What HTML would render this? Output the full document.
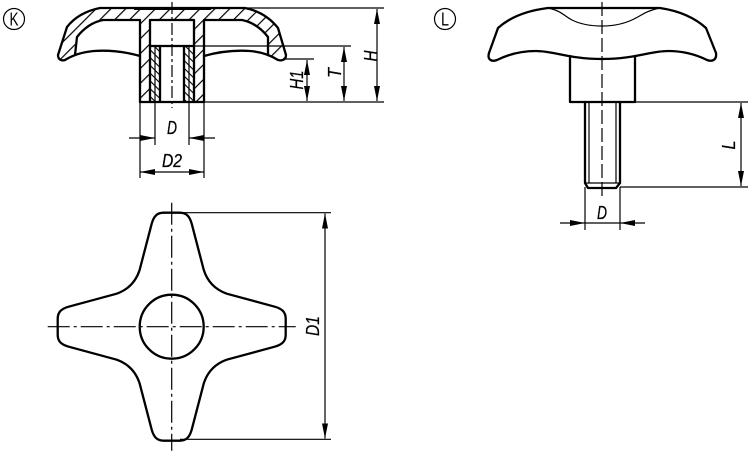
<!DOCTYPE html>
<html>
<head>
<meta charset="utf-8">
<style>
html,body{margin:0;padding:0;background:#fff;width:750px;height:452px;overflow:hidden}
svg{display:block}
text{font-family:"Liberation Sans",sans-serif;font-style:italic;font-size:18px;fill:#000;stroke:#000;stroke-width:.25}
.o{fill:none;stroke:#000;stroke-width:2.3;stroke-linejoin:round;stroke-linecap:round}
.t{fill:none;stroke:#000;stroke-width:1.2}
.c{fill:none;stroke:#000;stroke-width:1.2;stroke-dasharray:22 4 3 4}
</style>
</head>
<body>
<svg width="750" height="452" viewBox="0 0 750 452" xmlns="http://www.w3.org/2000/svg">
<defs>
<marker id="a" viewBox="0 0 15 6" refX="15" refY="3" markerWidth="15" markerHeight="6" markerUnits="userSpaceOnUse" orient="auto-start-reverse"><path d="M0 0L15 3L0 6Z" fill="#000"/></marker>
<clipPath id="sec"><path d="M100 8C85 11 74 18 67 27L58 55C58 60 62 61 65 60L75 55L77 37C84 28 93 22 103 20H140V102H150V20H194V102H204V20H242C252 22 261 28 268 37V55L278 60C282 61 286 60 286 55L278 28C270 18 260 11 245 8Z"/></clipPath>
<clipPath id="ins"><path d="M155 46H160V102H155ZM150 46H155V102H150ZM184 46H194V102H184Z"/></clipPath>
<pattern id="p1" width="10.500" height="10.500" patternUnits="userSpaceOnUse" patternTransform="rotate(-45)"><rect width="10.500" height="1.2" fill="#000"/></pattern>
<pattern id="p3" width="5.500" height="5.500" patternUnits="userSpaceOnUse" patternTransform="rotate(45)"><rect width="5.500" height="1.1" fill="#000"/></pattern>
</defs>

<!-- callouts -->
<circle cx="14" cy="19" r="10.500" class="t"/>
<text x="14" y="25.500" text-anchor="middle" style="font-style:normal;stroke:none" textLength="9" lengthAdjust="spacingAndGlyphs">K</text>
<circle cx="445" cy="19" r="10.500" class="t"/>
<text x="445" y="25.500" text-anchor="middle" style="font-style:normal;stroke:none" textLength="8" lengthAdjust="spacingAndGlyphs">L</text>

<!-- K section -->
<rect x="50" y="0" width="240" height="104" fill="url(#p1)" clip-path="url(#sec)"/>
<rect x="150" y="46" width="44" height="56" fill="url(#p3)" clip-path="url(#ins)"/>
<path class="o" d="M100 8H245C260 11 270 18 278 28L286 55C286 60 282 61 278 60C270 55 262 52 250 51C235 50 218 52 204 56"/>
<path class="o" d="M100 8C85 11 74 18 67 27L58 55C58 60 62 61 65 60C73 55 82 52 94 51C109 50 126 52 140 56"/>
<path class="o" style="stroke-width:3" d="M135 8.500H210"/>
<path class="o" d="M75 55L77 37C84 28 93 22 103 20H140V102H204V20H242C252 22 261 28 268 37V55"/>
<path class="o" d="M150 102V20H194V102M150 46H194M160 46V102M184 46V102"/>
<path class="t" d="M155 46V102M189 46V102"/>
<path class="c" d="M172 2V108" style="stroke-dasharray:12 3 3 3"/>

<!-- K dims -->
<path class="t" d="M245 8H384M204 102H384M194 46H351M285 59H314"/>
<path class="t" d="M140 102V178M204 102V178M155 102V145M189 102V145"/>
<path class="t" d="M377 9V101" marker-start="url(#a)" marker-end="url(#a)"/>
<path class="t" d="M344 47V101" marker-start="url(#a)" marker-end="url(#a)"/>
<path class="t" d="M307 60V101" marker-start="url(#a)" marker-end="url(#a)"/>
<path class="t" d="M129 138H155" marker-end="url(#a)"/>
<path class="t" d="M215 138H189" marker-end="url(#a)"/>
<path class="t" d="M140 172H204" marker-start="url(#a)" marker-end="url(#a)"/>
<text x="172" y="134" text-anchor="middle" textLength="10" lengthAdjust="spacingAndGlyphs">D</text>
<text x="172" y="167" text-anchor="middle" textLength="20" lengthAdjust="spacingAndGlyphs">D2</text>
<text transform="translate(377,56) rotate(-90)" text-anchor="middle" textLength="11" lengthAdjust="spacingAndGlyphs">H</text>
<text transform="translate(341,73) rotate(-90)" text-anchor="middle" textLength="10" lengthAdjust="spacingAndGlyphs">T</text>
<text transform="translate(303,80) rotate(-90)" text-anchor="middle" textLength="19" lengthAdjust="spacingAndGlyphs">H1</text>

<!-- L view -->
<path class="o" d="M548 8H660C680 11 695 18 706 28L716 53C717 60 712 62 707 60C695 54 682 51 668 51C650 51 635 59 602 59C569 59 554 51 536 51C522 51 509 54 497 60C492 62 487 60 489 53L498 28C509 18 524 11 548 8Z"/>
<path class="t" d="M548 8C562 11 564 16 572 20C582 25 592 26 602 26C612 26 624 24 634 19C642 15 646 11 660 8"/>
<path class="o" d="M570 56V102H635V56"/>
<path class="o" d="M585 102V183L588 188H616L620 183V102"/>
<path class="t" d="M589 102V183M616 102V183M585 183H620"/>
<path class="c" d="M602 2V197" style="stroke-dasharray:14 4 14 4"/>
<path class="t" d="M635 102H748M620 187H748"/>
<path class="t" d="M741 103V186" marker-start="url(#a)" marker-end="url(#a)"/>
<text transform="translate(735,145) rotate(-90)" text-anchor="middle" textLength="9" lengthAdjust="spacingAndGlyphs">L</text>
<path class="t" d="M585 187V230M620 187V230M585 223H620"/>
<path class="t" d="M560 223H585" marker-end="url(#a)"/>
<path class="t" d="M645 223H620" marker-end="url(#a)"/>
<text x="602" y="219" text-anchor="middle" textLength="10" lengthAdjust="spacingAndGlyphs">D</text>

<!-- plan view -->
<g transform="translate(171.700,326.700)">
<path class="o" d="M-8 -114H8C15 -114 18 -110 20 -103L32 -57C36 -44 44 -37 55 -33L103 -20C110 -18 114 -15 114 -8V8C114 15 110 18 103 20L55 33C44 37 36 44 32 57L20 103C18 110 15 114 8 114H-8C-15 114 -18 110 -20 103L-32 57C-36 44 -44 37 -55 33L-103 20C-110 18 -114 15 -114 8V-8C-114 -15 -110 -18 -103 -20L-55 -33C-44 -37 -36 -44 -32 -57L-20 -103C-18 -110 -15 -114 -8 -114Z"/>
<circle r="32" class="o"/>
<path class="c" d="M-124 0H124M0 -124V124"/>
</g>
<path class="t" d="M180 212.700H331M180 439.300H331"/>
<path class="t" d="M325 213.500V438.500" marker-start="url(#a)" marker-end="url(#a)"/>
<text transform="translate(319,326) rotate(-90)" text-anchor="middle" textLength="20" lengthAdjust="spacingAndGlyphs">D1</text>
</svg>
</body>
</html>
